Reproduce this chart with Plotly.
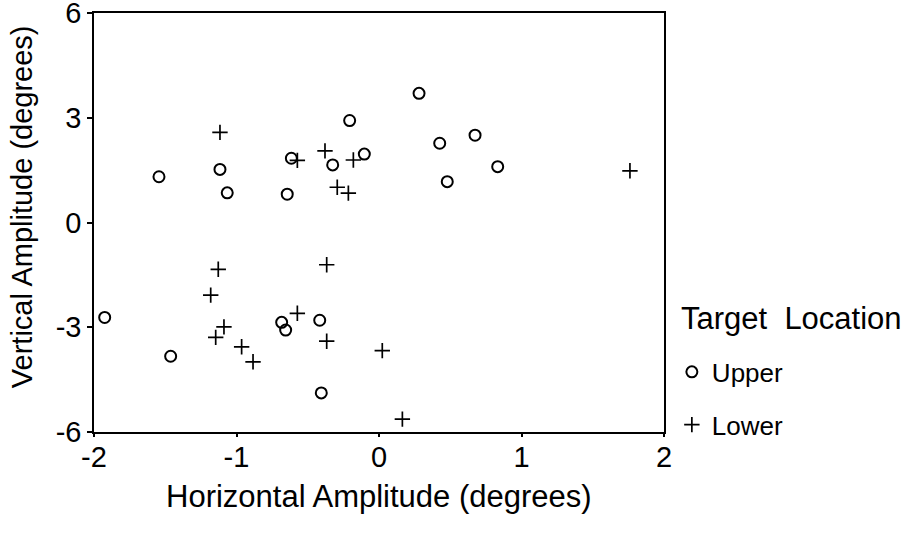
import plotly.graph_objects as go

# Upper target location (open circles)
upper_x = [-1.544, -1.116, -1.065, -0.644, -0.615, -0.325, -0.206, -0.103,
           0.281, 0.426, 0.674, 0.833, 0.479,
           -1.925, -1.462, -0.683, -0.655, -0.416, -0.405]
upper_y = [1.31, 1.52, 0.85, 0.81, 1.84, 1.65, 2.92, 1.96,
           3.70, 2.27, 2.50, 1.60, 1.17,
           -2.72, -3.83, -2.86, -3.08, -2.80, -4.88]

# Lower target location (plus signs)
lower_x = [-1.116, -0.573, -0.379, -0.293, -0.215, -0.180, 1.761,
           -1.128, -1.181, -1.088, -1.146, -0.964, -0.884, -0.573,
           -0.367, -0.367, 0.023, 0.164]
lower_y = [2.58, 1.78, 2.05, 1.01, 0.84, 1.79, 1.48,
           -1.34, -2.08, -2.99, -3.29, -3.56, -3.99, -2.60,
           -1.21, -3.40, -3.67, -5.63]

x_ticks = [-2, -1, 0, 1, 2]
x_ticktext = ["-2", "-1", "0", "1", "2"]
y_ticks = [-6, -3, 0, 3, 6]
y_ticktext = ["-6", "-3", "0", "3", "6"]

FONT = "Liberation Sans, Arial, Helvetica, sans-serif"

fig = go.Figure()
fig.add_trace(go.Scatter(
    x=upper_x, y=upper_y, mode="markers", name="Upper", legendgroup="u",
    marker=dict(symbol="circle-open", size=11, color="black",
                line=dict(width=2, color="black")),
))
fig.add_trace(go.Scatter(
    x=lower_x, y=lower_y, mode="markers", name="Lower", legendgroup="l",
    marker=dict(symbol="cross-thin-open", size=11, color="black",
                line=dict(width=1.7, color="black")),
))

axis_common = dict(
    showline=True, mirror=True, linecolor="black", linewidth=1.5,
    ticks="outside", tickwidth=1.5, tickcolor="black",
    showgrid=False, zeroline=False, automargin=False,
    ticklabeloverflow="allow",
    tickfont=dict(family=FONT, size=29, color="black"),
)

fig.update_layout(
    width=913, height=543,
    paper_bgcolor="white", plot_bgcolor="white",
    margin=dict(l=94, r=249, t=13, b=111),
    font=dict(family=FONT, color="black"),
    xaxis=dict(range=[-2, 2], tickvals=x_ticks, ticktext=x_ticktext, ticklen=3,
               ticklabelstandoff=-5, **axis_common),
    yaxis=dict(range=[-6, 6], tickvals=y_ticks, ticktext=y_ticktext, ticklen=5,
               **axis_common),
    showlegend=True,
    legend=dict(
        font=dict(family=FONT, size=26),
        x=1.0138, xanchor="left", y=0.1995, yanchor="top",
        traceorder="grouped", tracegroupgap=16,
        bgcolor="rgba(0,0,0,0)",
    ),
    annotations=[
        dict(text="Horizontal Amplitude (degrees)", xref="paper", yref="paper",
             x=0.5, y=-0.155, xanchor="center", yanchor="middle",
             showarrow=False, font=dict(family=FONT, size=31)),
        dict(text="Vertical Amplitude (degrees)", xref="paper", yref="paper",
             x=-0.126, y=0.537, xanchor="center", yanchor="middle", textangle=-90,
             showarrow=False, font=dict(family=FONT, size=29)),
        dict(text="Target\u00a0 Location", xref="paper", yref="paper",
             x=1.0263, y=0.272, xanchor="left", yanchor="middle",
             showarrow=False, font=dict(family=FONT, size=31)),
    ],
)

# Remove the default page margin so the figure fills the window exactly.
fig.write_html("out.html", config={"displayModeBar": False},
               post_script="document.body.style.margin='0';")
